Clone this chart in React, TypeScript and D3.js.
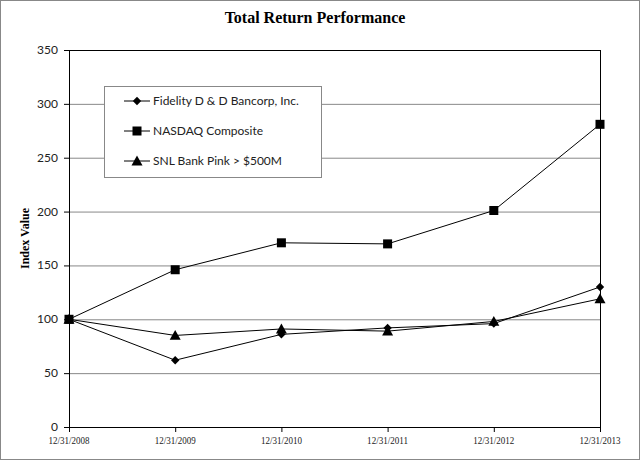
import React from "react";
import * as d3 from "d3";

const dates = ["12/31/2008", "12/31/2009", "12/31/2010", "12/31/2011", "12/31/2012", "12/31/2013"];
const fidelity = [100, 62, 86, 92, 96, 130];
const nasdaq = [100, 146, 171, 170, 201, 281];
const snl = [100, 85, 91, 89, 98, 119];
const yTicks = [0, 50, 100, 150, 200, 250, 300, 350];
const seriesNames = ["Fidelity D & D Bancorp, Inc.", "NASDAQ Composite", "SNL Bank Pink > $500M"];
const seriesMarkers = ["diamond", "square", "triangle"];

const W = 640, H = 460;
const left = 69, right = 600, top = 50, bottom = 427;

function Marker({ kind, x, y }: { kind: string; x: number; y: number }) {
  if (kind === "diamond") {
    const s = 4.2;
    return <path d={`M${x},${y - s}L${x + s},${y}L${x},${y + s}L${x - s},${y}Z`} fill="#000" />;
  }
  if (kind === "square") {
    const s = 4.5;
    return <rect x={x - s} y={y - s} width={2 * s} height={2 * s} fill="#000" />;
  }
  const s = 5.5;
  return <path d={`M${x},${y - s}L${x + s},${y + s * 0.8}L${x - s},${y + s * 0.8}Z`} fill="#000" />;
}

export default function App() {
  const x = d3.scalePoint<string>().domain(dates).range([left, right]);
  const y = d3.scaleLinear().domain([0, 350]).range([bottom, top]);
  const data = [fidelity, nasdaq, snl];
  const line = d3
    .line<number>()
    .x((_, i) => x(dates[i]) as number)
    .y((d) => y(d));

  const legendRows = [101, 131, 161];

  return (
    <svg
      width={W}
      height={H}
      style={{ position: "absolute", left: 0, top: 0, background: "#fff" }}
    >
      <rect x={0.5} y={0.5} width={W - 1} height={H - 1} fill="#fff" stroke="#888" strokeWidth={1} />
      <text
        x={315}
        y={23}
        textAnchor="middle"
        fontFamily="Liberation Serif, serif"
        fontWeight="bold"
        fontSize={16}
      >
        Total Return Performance
      </text>

      {yTicks.map((t) => (
        <line key={"g" + t} x1={left} x2={right} y1={y(t) + 0.5} y2={y(t) + 0.5} stroke="#888" strokeWidth={1} />
      ))}
      <line x1={left} x2={right} y1={top + 0.5} y2={top + 0.5} stroke="#000" />
      <line x1={right + 0.5} x2={right + 0.5} y1={top} y2={bottom} stroke="#000" />
      <line x1={left + 0.5} x2={left + 0.5} y1={top} y2={bottom} stroke="#000" />
      <line x1={left} x2={right} y1={bottom + 0.5} y2={bottom + 0.5} stroke="#000" />

      {yTicks.map((t) => (
        <g key={"y" + t}>
          <line x1={left - 5} x2={left} y1={y(t) + 0.5} y2={y(t) + 0.5} stroke="#000" />
          <text
            x={left - 11}
            y={y(t) + 4}
            textAnchor="end"
            fontFamily="Lato, sans-serif"
            fontSize={12}
            fill="#222"
          >
            {t}
          </text>
        </g>
      ))}
      {dates.map((d) => (
        <g key={d}>
          <line x1={(x(d) as number) + 0.5} x2={(x(d) as number) + 0.5} y1={bottom} y2={bottom + 5} stroke="#000" />
          <text
            x={x(d) as number}
            y={444}
            textAnchor="middle"
            fontFamily="Liberation Serif, serif"
            fontSize={11}
            textLength={41}
            lengthAdjust="spacingAndGlyphs"
            fill="#222"
          >
            {d}
          </text>
        </g>
      ))}
      <text
        transform={`translate(29,${(top + bottom) / 2}) rotate(-90)`}
        textAnchor="middle"
        fontFamily="Liberation Serif, serif"
        fontWeight="bold"
        fontSize={12}
      >
        Index Value
      </text>

      <rect x={104.5} y={86.5} width={217} height={91} fill="#fff" stroke="#888" />
      {seriesNames.map((n, i) => (
        <g key={n}>
          <line x1={124} x2={150} y1={legendRows[i]} y2={legendRows[i]} stroke="#000" />
          <Marker kind={seriesMarkers[i]} x={137} y={legendRows[i]} />
          <text x={153} y={legendRows[i] + 4} fontFamily="Lato, sans-serif" fontSize={12} fill="#222">
            {n}
          </text>
        </g>
      ))}

      {data.map((s, si) => (
        <g key={si}>
          <path d={line(s) || ""} fill="none" stroke="#000" strokeWidth={1} />
          {s.map((v, i) => (
            <Marker key={i} kind={seriesMarkers[si]} x={x(dates[i]) as number} y={y(v)} />
          ))}
        </g>
      ))}
    </svg>
  );
}
